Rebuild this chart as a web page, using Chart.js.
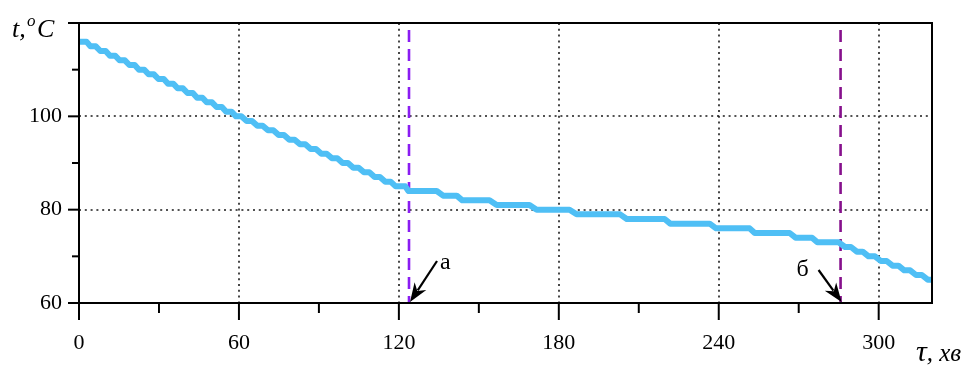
<!DOCTYPE html>
<html>
<head>
<meta charset="utf-8">
<script src="https://cdn.jsdelivr.net/npm/chart.js@4/dist/chart.umd.min.js"></script>
<style>
  html, body { margin: 0; padding: 0; background: #fff; }
  #wrap { width: 973px; height: 367px; }
</style>
</head>
<body>
<div id="wrap"><canvas id="c" width="973" height="367"></canvas></div>
<script>
// Temperature plateaus of the cooling curve: level (°C) and the time span (min) it is held
const stepTemp  = [116, 115, 114, 113, 112, 111, 110, 109, 108, 107, 106, 105, 104, 103, 102, 101,
                   100, 99, 98, 97, 96, 95, 94, 93, 92, 91, 90, 89, 88, 87, 86, 85,
                   84, 83, 82, 81, 80, 79, 78, 77, 76, 75, 74, 73,
                   72, 71, 70, 69, 68, 67, 66, 65];
const stepStart = [0, 4.3, 8.0, 11.6, 15.2, 18.9, 22.5, 26.1, 29.8, 33.4, 37.0, 40.7, 44.3, 47.9, 51.6, 55.2,
                   58.9, 62.9, 66.9, 70.9, 74.9, 78.9, 82.9, 86.9, 90.9, 94.9, 98.9, 102.9, 106.9, 110.9, 114.9, 118.8,
                   123.6, 136.6, 143.8, 156.7, 171.7, 186.7, 205.5, 221.8, 239.0, 253.5, 268.8, 277.0,
                   287.4, 291.8, 296.2, 300.8, 305.2, 309.6, 314.0, 318.4];
const stepEnd   = [2.8, 6.3, 10.0, 13.6, 17.2, 20.9, 24.5, 28.1, 31.8, 35.4, 39.0, 42.7, 46.3, 49.9, 53.6, 57.2,
                   60.9, 64.9, 68.9, 72.9, 76.9, 80.9, 84.9, 88.9, 92.9, 96.9, 100.9, 104.9, 108.9, 112.9, 116.9, 122.4,
                   134.2, 141.7, 154.0, 169.0, 184.0, 203.0, 219.7, 236.6, 251.6, 266.6, 275.0, 285.0,
                   289.6, 294.0, 298.6, 303.0, 307.4, 311.8, 316.2, 320.0];

// Axis ticks
const xMajor = [0, 60, 120, 180, 240, 300];
const xMinor = [30, 90, 150, 210, 270];
const yMajor = [60, 80, 100, 120];
const yMinor = [70, 90, 110];
const yLabels = [60, 80, 100];
const xGrid  = [60, 120, 180, 240, 300];
const yGrid  = [80, 100];

// Marked moments on the time axis
const markerTau   = [123.8, 285.7];
const markerLabel = ['а', 'б'];
const markerColor = ['#8a1cf2', '#86108c'];

const curve = [];
stepTemp.forEach((t, i) => {
  curve.push({ x: stepStart[i], y: t });
  curve.push({ x: stepEnd[i], y: t });
});

const SERIF = '"Liberation Serif", "DejaVu Serif", serif';

function seg(ctx, x1, y1, x2, y2) {
  ctx.beginPath(); ctx.moveTo(x1, y1); ctx.lineTo(x2, y2); ctx.stroke();
}

function arrow(ctx, x1, y1, x2, y2) {
  const ang = Math.atan2(y2 - y1, x2 - x1);
  const hl = 19, hw = 7;
  const bx = x2 - hl * Math.cos(ang), by = y2 - hl * Math.sin(ang);
  ctx.lineWidth = 2.2;
  seg(ctx, x1, y1, bx + 5 * Math.cos(ang), by + 5 * Math.sin(ang));
  ctx.beginPath();
  ctx.moveTo(x2, y2);
  ctx.lineTo(bx + hw * Math.sin(ang), by - hw * Math.cos(ang));
  ctx.lineTo(bx + 0.3 * hl * Math.cos(ang), by + 0.3 * hl * Math.sin(ang));
  ctx.lineTo(bx - hw * Math.sin(ang), by + hw * Math.cos(ang));
  ctx.closePath();
  ctx.fill();
}

const decor = {
  id: 'decor',
  beforeDatasetsDraw(chart) {
    const { ctx, chartArea: a, scales: { x, y } } = chart;
    ctx.save();
    // dotted grid
    ctx.strokeStyle = '#1a1a1a';
    ctx.lineWidth = 1.6;
    ctx.setLineDash([2, 3.8]);
    xGrid.forEach(v => { const p = Math.round(x.getPixelForValue(v)); seg(ctx, p, a.top, p, a.bottom); });
    yGrid.forEach(v => { const p = Math.round(y.getPixelForValue(v)); seg(ctx, a.left, p, a.right, p); });
    // dashed markers
    ctx.lineWidth = 2.6;
    ctx.setLineDash([12, 7]);
    markerTau.forEach((v, i) => {
      const p = x.getPixelForValue(v);
      ctx.strokeStyle = markerColor[i];
      seg(ctx, p, a.top + 7, p, a.bottom);
    });
    ctx.restore();
  },
  afterDatasetsDraw(chart) {
    const { ctx, chartArea: a, scales: { x, y } } = chart;
    ctx.save();
    ctx.strokeStyle = '#000';
    ctx.fillStyle = '#000';
    ctx.setLineDash([]);
    // frame
    ctx.lineWidth = 2;
    ctx.strokeRect(a.left, a.top, a.right - a.left, a.bottom - a.top);
    // tick marks
    xMajor.forEach(v => { const p = x.getPixelForValue(v); seg(ctx, p, a.bottom, p, a.bottom + 17); });
    xMinor.forEach(v => { const p = x.getPixelForValue(v); seg(ctx, p, a.bottom, p, a.bottom + 10); });
    yMajor.forEach(v => { const p = y.getPixelForValue(v); seg(ctx, a.left - 11, p, a.left, p); });
    yMinor.forEach(v => { const p = y.getPixelForValue(v); seg(ctx, a.left - 7, p, a.left, p); });
    // arrows with letters
    const offs = [{ tx: 28, ty: -42, lx: 31, ly: -34 }, { tx: -22, ty: -33, lx: -44, ly: -27 }];
    ctx.font = '24px ' + SERIF;
    ctx.textBaseline = 'alphabetic';
    ctx.textAlign = 'left';
    markerTau.forEach((v, i) => {
      const px = x.getPixelForValue(v), py = a.bottom;
      const o = offs[i];
      arrow(ctx, px + o.tx, py + o.ty, px + 1, py - 1);
      ctx.fillText(markerLabel[i], px + o.lx, py + o.ly);
    });
    // axis titles
    ctx.font = 'italic 26px ' + SERIF;
    ctx.fillText('t,', 12, 37);
    ctx.font = 'italic 17px ' + SERIF;
    ctx.fillText('o', 27, 26);
    ctx.font = 'italic 26px ' + SERIF;
    ctx.fillText('C', 37, 37);
    ctx.font = 'italic 30px ' + SERIF;
    ctx.fillText('τ', 916, 361);
    const tw = ctx.measureText('τ').width;
    ctx.font = 'italic 25px ' + SERIF;
    ctx.fillText(', хв', 916 + tw, 361);
    ctx.restore();
  }
};

new Chart(document.getElementById('c'), {
  type: 'line',
  data: {
    datasets: [{
      data: curve,
      borderColor: '#4fbff5',
      borderWidth: 6,
      pointRadius: 0,
      tension: 0,
      fill: false,
      borderJoinStyle: 'round',
      borderCapStyle: 'butt'
    }]
  },
  options: {
    responsive: false,
    animation: false,
    events: [],
    layout: { padding: { top: 23, right: 41, left: 0, bottom: 0 } },
    plugins: { legend: { display: false }, tooltip: { enabled: false } },
    scales: {
      x: {
        type: 'linear',
        min: 0, max: 320,
        grid: { display: false, drawTicks: false },
        border: { display: false },
        afterFit: s => { s.height = 64; s.paddingLeft = 0; s.paddingRight = 0; },
        ticks: {
          stepSize: 60,
          includeBounds: false,
          autoSkip: false,
          maxRotation: 0,
          padding: 27,
          color: '#000',
          font: { family: SERIF, size: 22 },
          callback: v => (xMajor.includes(v) ? String(v) : null)
        }
      },
      y: {
        type: 'linear',
        min: 60, max: 120,
        grid: { display: false, drawTicks: false },
        border: { display: false },
        afterFit: s => { s.width = 79; s.paddingTop = 0; s.paddingBottom = 0; },
        ticks: {
          stepSize: 20,
          padding: 17,
          color: '#000',
          font: { family: SERIF, size: 22 },
          callback: v => (yLabels.includes(v) ? String(v) : null)
        }
      }
    }
  },
  plugins: [decor]
});
</script>
</body>
</html>
